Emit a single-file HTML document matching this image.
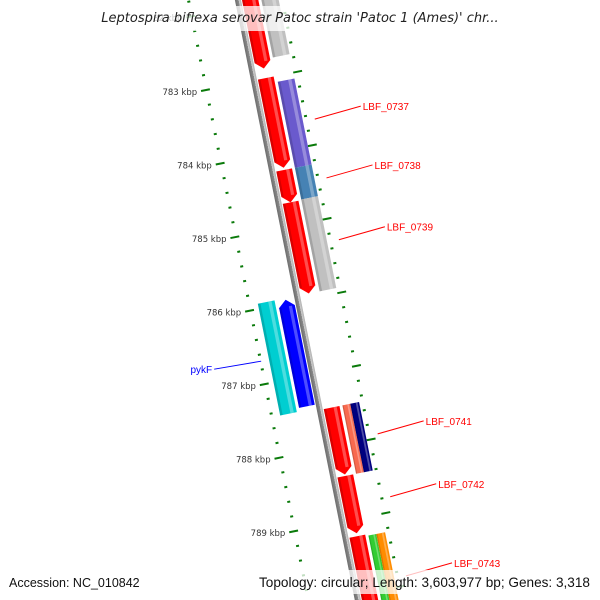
<!DOCTYPE html>
<html><head><meta charset="utf-8"><style>
html,body{margin:0;padding:0;background:#fff;overflow:hidden;width:600px;height:600px;}
svg{display:block;font-family:"Liberation Sans",sans-serif;overflow:hidden;}
</style></head><body>
<svg id="chart" width="600" height="600" viewBox="0 0 600 600" xmlns="http://www.w3.org/2000/svg">
<defs>
<linearGradient id="bb" x1="0" x2="1" y1="0" y2="0"><stop offset="0" stop-color="#6e6e6e"/><stop offset="0.6" stop-color="#8a8a8a"/><stop offset="0.61" stop-color="#cfcfcf"/><stop offset="1" stop-color="#b0b0b0"/></linearGradient>
</defs>
<g id="rot" transform="translate(254,80.4) rotate(-11.3)"></g>
<g id="scr"></g>
<rect x="88" y="6" width="424" height="25" fill="#fff" fill-opacity="0.75"/>
<text x="300" y="22" text-anchor="middle" font-size="13" font-style="italic" fill="#222" style="font-family:'DejaVu Sans',sans-serif">Leptospira biflexa serovar Patoc strain 'Patoc 1 (Ames)' chr...</text>
<rect x="0" y="570" width="600" height="24" fill="#fff" fill-opacity="0.75"/>
<text x="9" y="587" font-size="12.5" fill="#111">Accession: NC_010842</text>
<text x="590" y="587" text-anchor="end" font-size="13.6" fill="#111">Topology: circular; Length: 3,603,977 bp; Genes: 3,318</text>
</svg>
<script>
// data (kbp)
const geneNames  = ["cds-a","gene-a","LBF_0737-cds","LBF_0737","LBF_0738-cds","LBF_0738","LBF_0739-cds","LBF_0739","pykF-cds","pykF","LBF_0741-cds","LBF_0741a","LBF_0741b","LBF_0742-cds","LBF_0743-cds","LBF_0743a","LBF_0743b"];
const geneStart  = [781.5, 781.5, 783.0, 783.08, 784.25, 784.25, 784.69, 784.68, 785.95, 785.93, 787.48, 787.48, 787.48, 788.41, 789.23, 789.25, 789.25];
const geneEnd    = [782.87, 782.75, 784.22, 784.25, 784.69, 784.68, 785.93, 785.93, 787.40, 787.45, 788.39, 788.41, 788.41, 789.19, 790.5, 790.5, 790.5];
const geneStrand = [1,1,1,1,1,1,1,1,-1,-1,1,1,1,1,1,1,1];
const geneTrack  = [1,2,1,2,1,2,1,2,1,2,1,2,2,1,1,2,2];
const geneHalf   = [0,0,0,0,0,0,0,0,0,0,0,1,2,0,0,1,2];
const geneColor  = ["#ff0000","#c0c0c0","#ff0000","#6a5acd","#ff0000","#4682b4","#ff0000","#c0c0c0","#0000ff","#00ced1","#ff0000","#f86a4f","#000080","#ff0000","#ff0000","#32cd32","#ff8c00"];
const tickMajor  = [781,782,783,784,785,786,787,788,789,790];
const tickLabels = ["781 kbp","782 kbp","783 kbp","784 kbp","785 kbp","786 kbp","787 kbp","788 kbp","789 kbp","790 kbp"];
const labelGenes = ["LBF_0737","LBF_0738","LBF_0739","pykF","LBF_0741","LBF_0742","LBF_0743"];
const labelIndex = [3,5,7,9,11,13,15];
const labelColor = ["#ff0000","#ff0000","#ff0000","#0000ff","#ff0000","#ff0000","#ff0000"];

const NS="http://www.w3.org/2000/svg";
const ORIGIN_KBP=783, PX_PER_KBP=75;
const uOf=k=>(k-ORIGIN_KBP)*PX_PER_KBP;
const c=Math.cos(-11.3*Math.PI/180), s=Math.sin(-11.3*Math.PI/180);
const toScreen=(v,u)=>[254+v*c-u*s, 80.4+v*s+u*c];
const rot=document.getElementById('rot'), scr=document.getElementById('scr');
function mk(tag,attrs,parent){const e=document.createElementNS(NS,tag);for(const k in attrs)e.setAttribute(k,attrs[k]);parent.appendChild(e);return e;}

let bb=mk('rect',{x:-3,y:uOf(781.5),width:6,height:uOf(790.5)-uOf(781.5),fill:'url(#bb)'},rot);



for(let k=781.4;k<=790.401;k+=0.2){
  const kk=Math.round(k*10)/10;
  const major=Math.abs(kk-Math.round(kk))<1e-6;
  const u=uOf(kk);
  let t1=mk('line',{x1:major?-54:-50,x2:major?-45:-47,y1:u,y2:u,stroke:'#0a7a0a','stroke-width':2},rot);
  
  
  let t2=mk('line',{x1:major?40:42,x2:major?49:45,y1:u,y2:u,stroke:'#0a7a0a','stroke-width':2},rot);
  
  
}
tickMajor.forEach((k,i)=>{
  const [x,y]=toScreen(-58,uOf(k));
  let t=mk('text',{x:x,y:y+3,'text-anchor':'end','font-size':8.5,fill:'#333',style:"font-family:'DejaVu Sans',sans-serif"},scr);
  t.textContent=tickLabels[i];
  
  
});

geneStart.forEach((st,i)=>{
  const u0=uOf(st), u1=uOf(geneEnd[i]);
  let v0,v1;
  if(geneTrack[i]===1){v0=4;v1=20;}else{v0=23;v1=40;}
  if(geneHalf[i]===1){v1=31;} if(geneHalf[i]===2){v0=31;}
  if(geneStrand[i]<0){const a=-v1,b=-v0;v0=a;v1=b;}
  const g=mk('g',{},rot);
  
  
  const vm=(v0+v1)/2, h=7;
  let pts;
  if(geneTrack[i]===1){
    if(geneStrand[i]>0) pts=[[v0,u0],[v1,u0],[v1,u1-h],[vm,u1],[v0,u1-h]];
    else pts=[[vm,u0],[v1,u0+h],[v1,u1],[v0,u1],[v0,u0+h]];
  } else pts=[[v0,u0],[v1,u0],[v1,u1],[v0,u1]];
  mk('polygon',{points:pts.map(p=>p.join(',')).join(' '),fill:geneColor[i]},g);
  const w=v1-v0;
  const off=(geneTrack[i]===1&&geneStrand[i]<0?h:0);
  const hh=Math.max(0,u1-u0-(geneTrack[i]===1?h:0));
  mk('rect',{x:v0,y:u0+off,width:w*0.15,height:hh,fill:'#000','fill-opacity':0.15},g);
  mk('rect',{x:v0+w*0.62,y:u0+off,width:w*0.2,height:hh,fill:'#fff','fill-opacity':0.3},g);
});

labelGenes.forEach((name,j)=>{
  const i=labelIndex[j];
  const mid=(geneStart[i]+geneEnd[i])/2;
  const rev=geneStrand[i]<0;
  const [x,y]=toScreen(rev?-48:52,uOf(mid));
  const x2=rev?x-47:x+46, y2=rev?y+8:y-13;
  let l=mk('line',{x1:x,y1:y,x2:x2,y2:y2,stroke:labelColor[j],'stroke-width':1},scr);
  
  
  let t=mk('text',{x:rev?x2-2:x2+2,y:y2+4,'text-anchor':rev?'end':'start','font-size':10,fill:labelColor[j]},scr);
  t.textContent=name;
  
  
});
</script>
</body></html>
